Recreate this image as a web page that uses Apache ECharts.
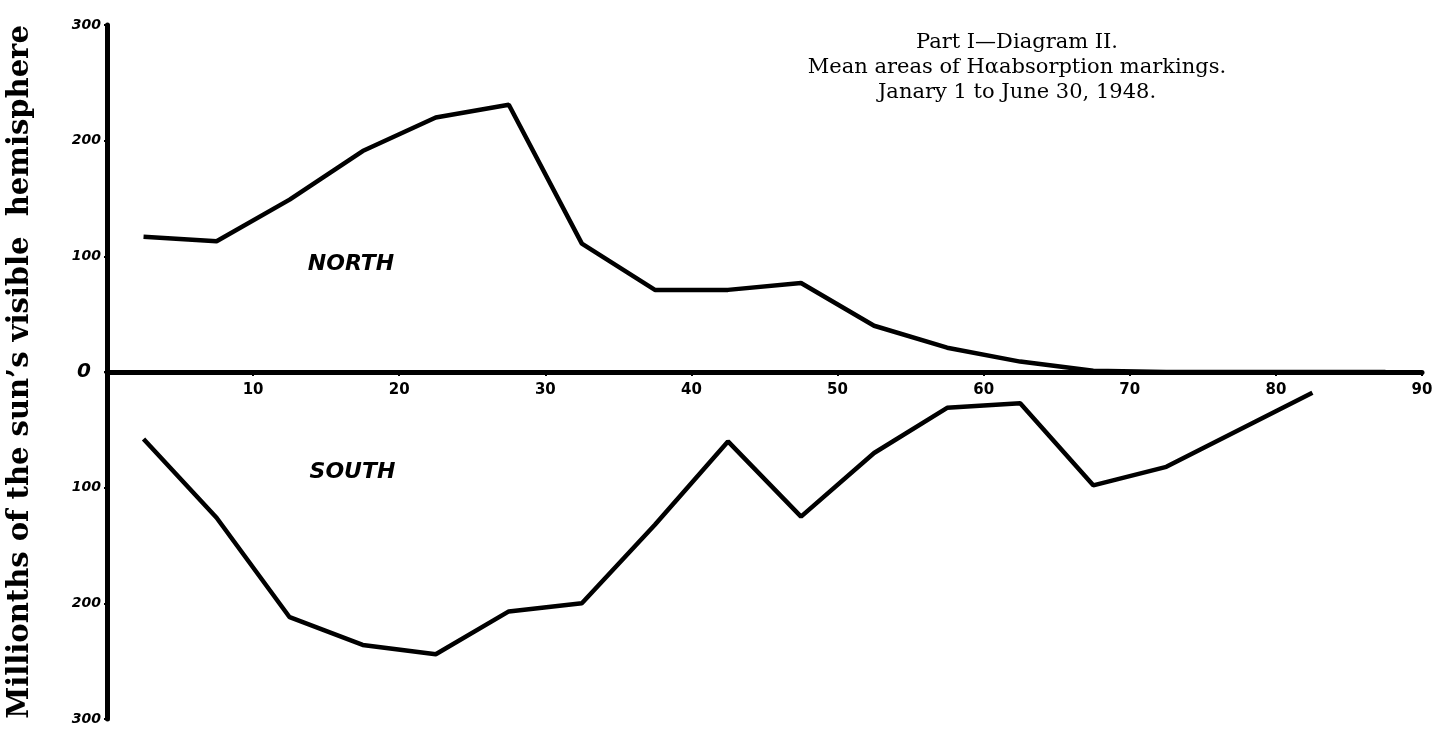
<!DOCTYPE html>
<html>
<head>
<meta charset="utf-8">
<script src="https://cdn.jsdelivr.net/npm/echarts@6/dist/echarts.min.js"></script>
<style>html,body{margin:0;padding:0;background:#fff}#c{width:1439px;height:731px}</style>
</head>
<body>
<div id="c"></div>
<script>
const latitudes = [2.5, 7.5, 12.5, 17.5, 22.5, 27.5, 32.5, 37.5, 42.5, 47.5, 52.5, 57.5, 62.5, 67.5, 72.5, 77.5, 82.5, 87.5];
const northValues = [117, 113, 149, 191, 220, 231, 111, 71, 71, 77, 40, 21, 9, 1, 0, 0, 0, 0];
const southValues = [58, 126, 212, 236, 244, 207, 200, 132, 60, 125, 70, 31, 27, 98, 82, 50, 18];
const yTicks = [-300, -200, -100, 0, 100, 200, 300];
const xTicks = [10, 20, 30, 40, 50, 60, 70, 80, 90];
const titleLines = ['Part I\u2014Diagram II.', 'Mean areas of H\u03b1absorption markings.', 'Janary 1 to June 30, 1948.'];
const yAxisName = "Millionths of the sun\u2019s visible  hemisphere";

const northData = northValues.map((v, i) => [latitudes[i], v]);
const southData = southValues.map((v, i) => [latitudes[i], -v]);

const chart = echarts.init(document.getElementById('c'));
chart.setOption({
  animation: false,
  backgroundColor: '#fff',
  title: {
    text: titleLines.join('\n'),
    left: 1012, top: 25, textAlign: 'center',
    textStyle: { fontFamily: 'DejaVu Serif', fontSize: 21, fontWeight: 'normal', color: '#000', lineHeight: 25 }
  },
  grid: { left: 107, right: 17, top: 25, bottom: 12, containLabel: false, outerBoundsMode: 'none' },
  xAxis: {
    type: 'value', min: 0, max: 90, interval: 10,
    position: 'bottom', offset: -347,
    axisLine: { onZero: false, lineStyle: { color: '#000', width: 5 } },
    axisTick: { show: true, length: 4, lineStyle: { color: '#000', width: 2 } },
    axisLabel: {
      margin: 11, color: '#000', fontFamily: 'DejaVu Sans', fontWeight: 'bold', fontSize: 15,
      formatter: v => xTicks.includes(v) ? String(v) : ''
    },
    splitLine: { show: false }
  },
  yAxis: {
    type: 'value', min: -300, max: 300, interval: 100,
    name: yAxisName, nameLocation: 'middle', nameGap: 72,
    nameTextStyle: { fontFamily: 'DejaVu Serif', fontWeight: 'bold', fontSize: 29, color: '#000' },
    axisLine: { show: true, onZero: false, lineStyle: { color: '#000', width: 5 } },
    axisTick: { show: true, length: 3, lineStyle: { color: '#000', width: 2 } },
    axisLabel: {
      margin: 6, color: '#000', fontFamily: 'DejaVu Sans', fontWeight: 'bold', fontStyle: 'italic', fontSize: 14,
      formatter: v => v === 0 ? '{z|0}' : (yTicks.includes(v) ? String(Math.abs(v)) : ''),
      rich: { z: { fontSize: 20, fontWeight: 'bold', fontStyle: 'italic', fontFamily: 'DejaVu Sans', color: '#000', padding: [0, 10, 0, 0] } }
    },
    splitLine: { show: false }
  },
  series: [
    {
      name: 'NORTH', type: 'line', data: northData, symbol: 'none',
      lineStyle: { color: '#000', width: 4.5 },
      markPoint: {
        symbol: 'circle', symbolSize: 0,
        label: { show: true, formatter: 'NORTH', color: '#000', fontFamily: 'DejaVu Sans', fontStyle: 'italic', fontWeight: 'bold', fontSize: 22, letterSpacing: 6 },
        data: [{ coord: [16.7, 93] }]
      }
    },
    {
      name: 'SOUTH', type: 'line', data: southData, symbol: 'none',
      lineStyle: { color: '#000', width: 4.5 },
      markPoint: {
        symbol: 'circle', symbolSize: 0,
        label: { show: true, formatter: 'SOUTH', color: '#000', fontFamily: 'DejaVu Sans', fontStyle: 'italic', fontWeight: 'bold', fontSize: 22, letterSpacing: 6 },
        data: [{ coord: [16.8, -87] }]
      }
    }
  ]
});
</script>
</body>
</html>
